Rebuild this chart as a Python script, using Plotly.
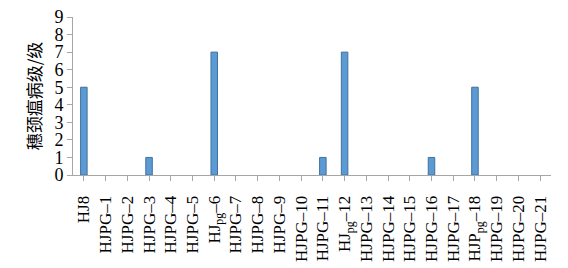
import plotly.graph_objects as go

categories = ["HJ8", "HJPG–1", "HJPG–2", "HJPG–3", "HJPG–4", "HJPG–5", "HJ<sub>pg</sub>–6",
              "HJPG–7", "HJPG–8", "HJPG–9", "HJPG–10", "HJPG–11", "HJ<sub>pg</sub>–12",
              "HJPG–13", "HJPG–14", "HJPG–15", "HJPG–16", "HJPG–17", "HJP<sub>pg</sub>–18",
              "HJPG–19", "HJPG–20", "HJPG–21"]
values = [5, 0, 0, 1, 0, 0, 7, 0, 0, 0, 0, 1, 7, 0, 0, 0, 1, 0, 5, 0, 0, 0]
y_ticks = [0, 1, 2, 3, 4, 5, 6, 7, 8, 9]

fig = go.Figure(go.Bar(
    x=list(range(len(categories))), y=[v if v else None for v in values], width=0.3,
    marker=dict(color="#5B9BD5", line=dict(color="#41719C", width=1)),
))

fig.update_layout(
    width=568, height=268,
    margin=dict(l=73, r=17, t=17, b=93),
    plot_bgcolor="white", paper_bgcolor="white",
    showlegend=False,
    font=dict(family="Liberation Serif", color="black"),
)
fig.update_xaxes(
    tickmode="array", tickvals=list(range(len(categories))), ticktext=categories,
    range=[-0.5, len(categories) - 0.5],
    tickangle=-90, tickfont=dict(size=17, family="Liberation Serif"),
    ticklabelstandoff=8, automargin=False,
    showline=True, linecolor="#A6A6A6", linewidth=1,
    ticks="outside", tickson="boundaries", ticklen=5, tickcolor="#A6A6A6",
    showgrid=False, zeroline=False,
)
fig.update_yaxes(
    range=[0, 9], tickmode="array", tickvals=y_ticks, ticktext=[str(v) for v in y_ticks],
    tickfont=dict(size=18, family="Liberation Serif"), automargin=False,
    showline=True, linecolor="#A6A6A6", linewidth=1,
    ticks="outside", ticklen=5, tickcolor="#A6A6A6",
    showgrid=False, zeroline=False,
    title=dict(text="穗颈瘟病级/级", font=dict(size=17, family="Noto Sans CJK SC"), standoff=8),
)

fig.write_html("out.html")
